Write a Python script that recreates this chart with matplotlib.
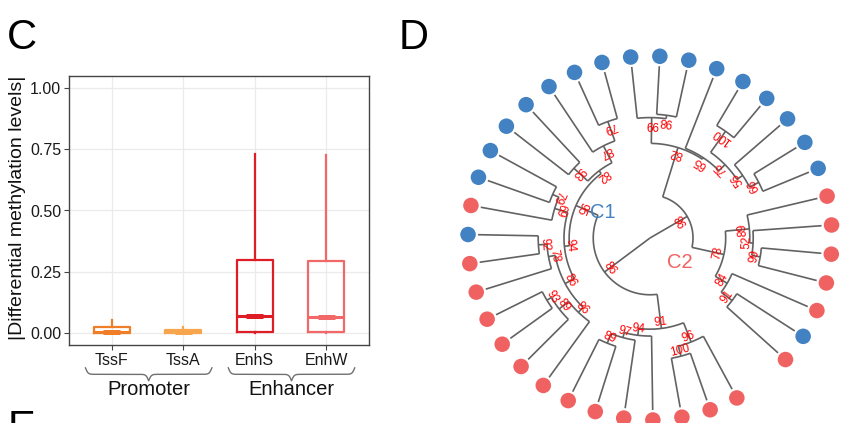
import numpy as np
import matplotlib
matplotlib.use("Agg")
import matplotlib.pyplot as plt
from matplotlib.transforms import blended_transform_factory

plt.rcParams["font.family"] = "Liberation Sans"

# ---- panel C: box summaries ----
CATEGORIES = ["TssF", "TssA", "EnhS", "EnhW"]
BOX_COLORS = ["#F07D28", "#F8A64E", "#DF1D27", "#F26767"]
WHISKER_LO = [0.0, 0.0, 0.0, 0.0]
Q1 = [0.0, 0.0, 0.004, 0.004]
MEDIAN = [0.004, 0.004, 0.068, 0.066]
Q3 = [0.025, 0.012, 0.298, 0.294]
WHISKER_HI = [0.052, 0.022, 0.731, 0.725]
GROUPS = ["Promoter", "Enhancer"]
GROUP_MEMBERS = [(0, 1), (2, 3)]
Y_TICKS = [0.0, 0.25, 0.50, 0.75, 1.00]

# ---- panel D: clustering tree, internal labels are bootstrap support ----
TREE = ("((((t1,(t2,t3)100:0.06)96:0.12,(t4,(t5,(t6,t7)89:0.06)97:0.03)94:0.04)91:0.20,"
        "((((t8,(t9,(t10,t11)93:0.03)89:0.07)86:0.04,(t12,(t13,t14)92:0.05)78:0.04)86:0.06,"
        "(t15,(t16,t17)79:0.04)69:0.08)94:0.03,"
        "((t18,t19)93:0.11,(t20,(t21,t22)79:0.12)87:0.11)82:0.02)95:0.14)86:0.33,"
        "(((t23,(t24,t25)98:0.02)99:0.15,"
        "(t26,((t27,t28)100:0.15,(t29,(t30,t31)66:0.06)56:0.04)75:0.05)65:0.01)82:0.30,"
        "((t32,(t33,(t34,t35)99:0.05)52:0.02)89:0.14,(t36,(t37,t38)91:0.08)84:0.08)78:0.19)98:0.25);")
TIP_GROUP = ["C2", "C2", "C2", "C2", "C2", "C2", "C2", "C2", "C2", "C2",
             "C2", "C2", "C2", "C1", "C2", "C1", "C1", "C1", "C1", "C1",
             "C1", "C1", "C1", "C1", "C1", "C1", "C1", "C1", "C1", "C1",
             "C1", "C2", "C2", "C2", "C2", "C2", "C1", "C2"]
GROUP_COLORS = {"C1": "#4282C2", "C2": "#F06262"}

# tree geometry (pixels, screen angles clockwise from east)
CX, CY = 650, 238
R_TIP = 172
DOT_R = 182
START_ANGLE = 61.5
STEP = 9.2


def parse_newick(s):
    pos = 0

    def node():
        nonlocal pos
        children = []
        if s[pos] == "(":
            pos += 1
            children.append(node())
            while s[pos] == ",":
                pos += 1
                children.append(node())
            pos += 1
        start = pos
        while s[pos] not in ",():;":
            pos += 1
        label = s[start:pos]
        length = 0.0
        if s[pos] == ":":
            pos += 1
            start = pos
            while s[pos] not in ",();":
                pos += 1
            length = float(s[start:pos])
        return {"label": label, "length": length, "children": children}

    return node()


def layout(nd, depth, state):
    if not nd["children"]:
        nd["r"] = 1.0
        nd["angle"] = START_ANGLE + state["k"] * STEP
        nd["group"] = TIP_GROUP[state["k"]]
        state["k"] += 1
        return
    for ch in nd["children"]:
        layout(ch, depth + ch["length"], state)
    nd["r"] = depth
    nd["angle"] = np.mean([c["angle"] for c in nd["children"]])


def polar(r, a):
    t = np.radians(a)
    return CX + R_TIP * r * np.cos(t), CY + R_TIP * r * np.sin(t)


def draw_tree(ax, nd, tips):
    line_kw = dict(color="#626262", lw=1.2, solid_capstyle="butt", clip_on=False)
    if not nd["children"]:
        tips.append(nd)
        return
    angs = [c["angle"] for c in nd["children"]]
    if nd["r"] > 0:
        a = np.linspace(min(angs), max(angs), 60)
        x, y = polar(nd["r"], a)
        ax.plot(x, y, **line_kw)
    for ch in nd["children"]:
        x0, y0 = polar(nd["r"], ch["angle"])
        x1, y1 = polar(ch["r"], ch["angle"])
        ax.plot([x0, x1], [y0, y1], **line_kw)
        draw_tree(ax, ch, tips)
    if nd["label"]:
        x, y = polar(nd["r"], nd["angle"])
        ax.text(x, y, nd["label"], color="#FF0000", fontsize=8.5,
                rotation=90 - nd["angle"], rotation_mode="anchor",
                ha="center", va="bottom")


def curly_brace(ax, x0, x1, y_top, height, beta=55):
    x = np.linspace(x0, x1, 401)
    half = x[:201]
    yh = 1 / (1 + np.exp(-beta * (half - half[0]))) + 1 / (1 + np.exp(-beta * (half - half[-1])))
    yy = np.concatenate([yh, yh[-2::-1]]) - 0.5
    tr = blended_transform_factory(ax.transData, ax.transAxes)
    ax.plot(x, y_top - yy * height, color="#707070", lw=1.0, transform=tr, clip_on=False)


fig = plt.figure(figsize=(8.41, 4.23), dpi=100)

# ---------------- panel C ----------------
ax = fig.add_axes([69 / 841, 78 / 423, 300 / 841, 269 / 423])
pos = np.arange(1, len(CATEGORIES) + 1)
for i, c in enumerate(BOX_COLORS):
    st = dict(med=MEDIAN[i], q1=Q1[i], q3=Q3[i], whislo=WHISKER_LO[i], whishi=WHISKER_HI[i])
    ax.bxp([st], positions=[pos[i]], widths=0.5, showfliers=False, showcaps=False,
           boxprops=dict(color=c, lw=1.6), whiskerprops=dict(color=c, lw=1.6),
           medianprops=dict(color=c, lw=2.2))
    ax.hlines(MEDIAN[i], pos[i] - 0.12, pos[i] + 0.12, color=c, lw=3.6)

ax.set_xlim(0.4, 4.6)
ax.set_ylim(-0.05, 1.05)
ax.set_xticks(pos)
ax.set_xticklabels(CATEGORIES)
ax.set_yticks(Y_TICKS)
ax.set_yticklabels([f"{v:.2f}" for v in Y_TICKS])
ax.grid(color="#EBEBEB", lw=0.9)
ax.set_axisbelow(True)
for sp in ax.spines.values():
    sp.set_color("#444444")
    sp.set_linewidth(1.0)
ax.tick_params(length=3.5, width=0.8, color="#444444", labelsize=11.5,
               labelcolor="#1A1A1A", pad=2)

tr = blended_transform_factory(ax.transData, ax.transAxes)
for name, (g0, g1) in zip(GROUPS, GROUP_MEMBERS):
    curly_brace(ax, pos[g0] - 0.37, pos[g1] + 0.40, -0.085, 0.048)
    ax.text((pos[g0] + pos[g1]) / 2 + 0.02, -0.167, name, transform=tr,
            ha="center", va="center", fontsize=14.5, color="#111111")

fig.text(18 / 841, 1 - 208 / 423, "|Differential methylation levels|", rotation=90,
         ha="center", va="center", fontsize=14, color="#111111")

# ---------------- panel D ----------------
ax2 = fig.add_axes([430 / 841, 0, 411 / 841, 1])
ax2.set_xlim(430, 841)
ax2.set_ylim(423, 0)
ax2.axis("off")

root = parse_newick(TREE)
layout(root, 0.0, {"k": 0})
tips = []
draw_tree(ax2, root, tips)
tx, ty = polar(DOT_R / R_TIP, np.array([t["angle"] for t in tips]))
ax2.scatter(tx, ty, s=125, c=[GROUP_COLORS[t["group"]] for t in tips],
            edgecolors="none", zorder=3, clip_on=False)

ax2.text(603, 213, "C1", color=GROUP_COLORS["C1"], fontsize=14.5, ha="center", va="center")
ax2.text(680, 262, "C2", color=GROUP_COLORS["C2"], fontsize=14.5, ha="center", va="center")

# panel letters
fig.text(7 / 841, 1 - 49 / 423, "C", fontsize=30, va="baseline")
fig.text(399 / 841, 1 - 49 / 423, "D", fontsize=30, va="baseline")
fig.text(8 / 841, 1 - 440 / 423, "E", fontsize=30, va="baseline")

fig.savefig("out.png", dpi=100)
